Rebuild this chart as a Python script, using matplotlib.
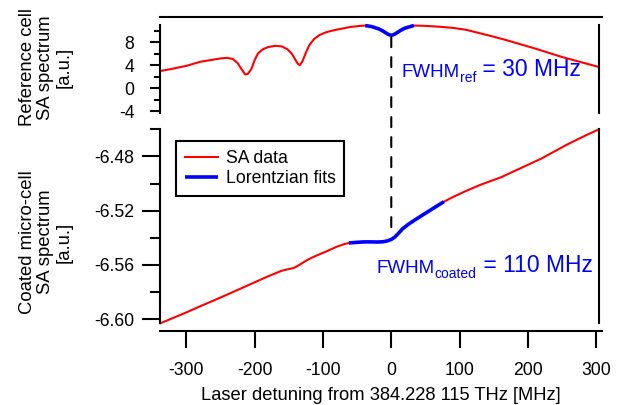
import numpy as np
import matplotlib.pyplot as plt
from matplotlib.patches import ConnectionPatch
from matplotlib.ticker import MultipleLocator, FormatStrFormatter

plt.rcParams['font.family'] = ['Liberation Sans', 'DejaVu Sans']
plt.rcParams['axes.unicode_minus'] = False

# reference cell, SA data (red)
ref_x = [-338, -320, -300, -280, -260, -250, -240, -232, -225, -219, -214, -210,
         -205, -200, -195, -188, -180, -170, -160, -152, -146, -141, -137, -134,
         -130, -125, -120, -113, -105, -95, -85, -75, -60, -45, -38,
         33, 50, 70, 90, 110, 130, 150, 170, 190, 210, 230, 250, 270, 290, 304]
ref_y = [3.0, 3.4, 3.9, 4.6, 5.0, 5.2, 5.3, 5.1, 4.4, 3.3, 2.4, 2.5,
         3.3, 4.9, 6.1, 6.8, 7.2, 7.4, 7.3, 6.8, 6.1, 5.1, 4.3, 4.0,
         4.7, 6.2, 7.5, 8.6, 9.3, 9.8, 10.1, 10.35, 10.7, 10.9, 10.95,
         10.95, 10.9, 10.75, 10.55, 10.2, 9.6, 9.0, 8.35, 7.65, 6.95, 6.2, 5.45, 4.8, 4.15, 3.7]
ref_split = 35  # index where the gap for the fit starts

# reference cell, Lorentzian fit (blue)
ref_fit_x = [-38, -30, -24, -18, -13, -9, -5, -2, 0, 2, 5, 9, 13, 18, 24, 30, 33]
ref_fit_y = [10.95, 10.8, 10.6, 10.35, 10.05, 9.75, 9.45, 9.3, 9.27, 9.3, 9.45,
             9.75, 10.05, 10.4, 10.65, 10.85, 10.95]

# coated micro-cell, SA data (red)
coat_x = [-338, -320, -300, -280, -260, -240, -220, -200, -180, -160, -150, -142,
          -135, -123, -110, -95, -80, -70, -62,
          77, 90, 106, 130, 160, 190, 220, 256, 280, 304]
coat_y = [-6.6030, -6.5992, -6.5950, -6.5905, -6.5862, -6.5818, -6.5773, -6.5728,
          -6.5683, -6.5642, -6.5630, -6.5621, -6.5601, -6.5563, -6.5532, -6.5500,
          -6.5466, -6.5448, -6.5438,
          -6.5134, -6.5100, -6.5062, -6.5010, -6.4955, -6.4885, -6.4815, -6.4716,
          -6.4656, -6.4600]
coat_split = 19

# coated micro-cell, Lorentzian fit (blue)
coat_fit_x = [-62, -50, -40, -30, -20, -12, -6, 0, 5, 10, 16, 25, 35, 43, 55, 66, 77]
coat_fit_y = [-6.5438, -6.5433, -6.5430, -6.5430, -6.5431, -6.5429, -6.5423, -6.5412,
              -6.5395, -6.5370, -6.5336, -6.5300, -6.5267, -6.5241, -6.5203, -6.5168,
              -6.5134]

# dashed marker at zero detuning
marker_x = 0
marker_top = 8.93
marker_bottom = -6.5342

red = '#ff0000'
blue = '#0000ff'
fs = 12.7

W, H = 620, 405
fig = plt.figure(figsize=(W / 100, H / 100), dpi=100)


def box(x0, y0, x1, y1):
    return [x0 / W, 1 - y1 / H, (x1 - x0) / W, (y1 - y0) / H]


ax_top = fig.add_axes(box(160, 25, 601.7, 113.3))
ax_bot = fig.add_axes(box(160, 129.3, 601.7, 323.3))

for ax in (ax_top, ax_bot):
    ax.set_xlim(-338.5, 308)
    ax.set_facecolor('none')
    for s in ax.spines.values():
        s.set_linewidth(1.5)
    ax.spines['right'].set_position(('data', 304))

# upper panel
ax_top.plot(ref_x[:ref_split], ref_y[:ref_split], color=red, lw=1.5, clip_on=False)
ax_top.plot(ref_x[ref_split:], ref_y[ref_split:], color=red, lw=1.5, clip_on=False)
ax_top.plot(ref_fit_x, ref_fit_y, color=blue, lw=2.6, clip_on=False, solid_capstyle='butt')
ax_top.set_ylim(-4.4, 11.05)
ax_top.spines['bottom'].set_visible(False)
ax_top.spines['top'].set_position(('outward', 6))
ax_top.set_yticks([-4, 0, 4, 8])
ax_top.yaxis.set_minor_locator(MultipleLocator(2))
ax_top.tick_params(axis='x', bottom=False, labelbottom=False)
ax_top.tick_params(axis='y', which='major', direction='out', length=7.2, width=1.5,
                   pad=11.3, labelsize=fs)
ax_top.tick_params(axis='y', which='minor', direction='out', length=4.5, width=1.5)

# lower panel
l1, = ax_bot.plot(coat_x[:coat_split], coat_y[:coat_split], color=red, lw=1.5,
                  clip_on=False, label='SA data')
ax_bot.plot(coat_x[coat_split:], coat_y[coat_split:], color=red, lw=1.5, clip_on=False)
l2, = ax_bot.plot(coat_fit_x, coat_fit_y, color=blue, lw=2.6, clip_on=False,
                  solid_capstyle='butt', label='Lorentzian fits')
ax_bot.set_ylim(-6.603, -6.460)
ax_bot.spines['top'].set_visible(False)
ax_bot.spines['bottom'].set_position(('outward', 5.5))
ax_bot.set_yticks([-6.60, -6.56, -6.52, -6.48])
ax_bot.yaxis.set_major_formatter(FormatStrFormatter('%.2f'))
ax_bot.yaxis.set_minor_locator(MultipleLocator(0.02))
ax_bot.set_xticks([-300, -200, -100, 0, 100, 200, 300])
ax_bot.tick_params(axis='y', which='major', direction='out', length=13, width=1.5,
                   pad=5.5, labelsize=fs)
ax_bot.tick_params(axis='y', which='minor', direction='out', length=7.2, width=1.5)
ax_bot.tick_params(axis='x', which='major', direction='out', length=12.2, width=1.5,
                   pad=10.5, labelsize=fs)

leg = ax_bot.legend(handles=[l1, l2], loc='upper left',
                    bbox_to_anchor=(176 / W, 1 - 141 / H), bbox_transform=fig.transFigure,
                    borderaxespad=0, fontsize=fs, fancybox=False, framealpha=1,
                    edgecolor='black', handlelength=1.9, handletextpad=0.42,
                    labelspacing=0.2, borderpad=0.5)
leg.get_frame().set_linewidth(1.5)

con = ConnectionPatch(xyA=(marker_x, marker_top), coordsA=ax_top.transData,
                      xyB=(marker_x, marker_bottom), coordsB=ax_bot.transData,
                      color='black', lw=1.5, linestyle=(0, (4.8, 4.8)))
fig.add_artist(con)

# axis labels
fig.text(46 / W, 1 - 67.5 / H, 'Reference cell\nSA spectrum\n[a.u.]', rotation=90,
         ha='center', va='center', multialignment='center', fontsize=13.3, linespacing=1.08)
fig.text(46 / W, 1 - 242 / H, 'Coated micro-cell\nSA spectrum\n[a.u.]', rotation=90,
         ha='center', va='center', multialignment='center', fontsize=13.3, linespacing=1.08)
fig.text(381 / W, 1 - 400 / H, 'Laser detuning from 384.228 115 THz [MHz]',
         ha='center', va='baseline', fontsize=13.2)


def fwhm_label(x, y, sub, value):
    t1 = fig.text(x / W, 1 - y / H, 'FWHM', color=blue, fontsize=13.5, va='baseline')
    t2 = ax_top.annotate(sub, xy=(1, 0), xycoords=t1, xytext=(0, -3.0),
                         textcoords='offset points', va='bottom', color=blue, fontsize=10)
    ax_top.annotate(' = ' + value, xy=(1, 0), xycoords=t2, xytext=(0, 3.0),
                    textcoords='offset points', va='bottom', color=blue, fontsize=16.5)


fwhm_label(401.7, 77.3, 'ref', '30 MHz')
fwhm_label(376.7, 272.7, 'coated', '110 MHz')

fig.savefig('out.png', dpi=100)
